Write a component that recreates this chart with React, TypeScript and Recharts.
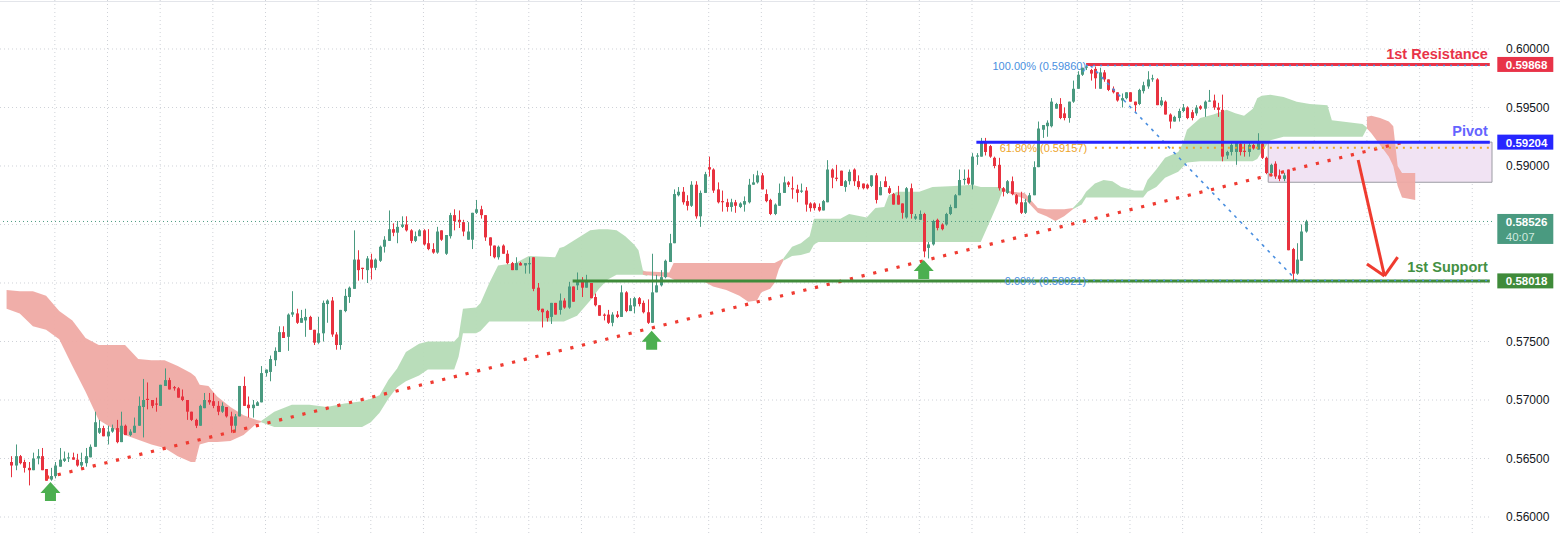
import React from "react";
import {
  ComposedChart,
  Bar,
  Area,
  XAxis,
  YAxis,
  CartesianGrid,
  ReferenceLine,
  ReferenceDot,
  ReferenceArea,
} from "recharts";

// candle prices in pips (1 = 0.0001), one entry per bar
const openPips = [
  5647, 5644, 5652, 5647, 5642, 5640, 5650, 5652, 5641, 5632,
  5635, 5643, 5648, 5650, 5651, 5649, 5644, 5646, 5651, 5660,
  5672, 5676, 5669, 5673, 5676, 5664, 5678, 5670, 5672, 5678,
  5694, 5701, 5700, 5697, 5695, 5712, 5717, 5711, 5710, 5703,
  5700, 5690, 5683, 5678, 5693, 5700, 5699, 5695, 5690, 5694,
  5686, 5678, 5686, 5712, 5696, 5693, 5695, 5698, 5723, 5724,
  5734, 5741, 5758, 5754, 5773, 5774, 5766, 5768, 5771, 5760,
  5749, 5757, 5782, 5785, 5756, 5747, 5776, 5788, 5795, 5820,
  5813, 5811, 5820, 5813, 5819, 5831, 5836, 5846, 5843, 5848,
  5850, 5845, 5836, 5840, 5845, 5834, 5829, 5826, 5845, 5825,
  5840, 5858, 5854, 5852, 5837, 5837, 5860, 5863, 5858, 5839,
  5832, 5822, 5832, 5825, 5817, 5811, 5817, 5815, 5816, 5822,
  5796, 5778, 5776, 5771, 5783, 5777, 5785, 5779, 5797, 5798,
  5801, 5796, 5800, 5788, 5781, 5773, 5773, 5766, 5773, 5771,
  5792, 5776, 5780, 5787, 5783, 5775, 5766, 5792, 5798, 5805,
  5818, 5834, 5875, 5878, 5870, 5866, 5884, 5857, 5877, 5899,
  5897, 5880, 5870, 5869, 5865, 5869, 5865, 5867, 5869, 5884,
  5886, 5892, 5876, 5871, 5859, 5866, 5877, 5886, 5881, 5880,
  5878, 5879, 5868, 5868, 5865, 5862, 5869, 5897, 5890, 5896,
  5882, 5887, 5897, 5887, 5885, 5884, 5883, 5892, 5875, 5887,
  5881, 5876, 5875, 5868, 5856, 5881, 5855, 5854, 5859, 5830,
  5833, 5854, 5850, 5850, 5859, 5864, 5875, 5888, 5890, 5884,
  5908, 5908, 5921, 5917, 5907, 5901, 5881, 5877, 5887, 5875,
  5869, 5860, 5869, 5875, 5899, 5931, 5934, 5934, 5949, 5953,
  5945, 5941, 5955, 5966, 5978, 5984, 5982, 5983, 5966, 5980,
  5974, 5966, 5963, 5956, 5958, 5963, 5955, 5953, 5964, 5968,
  5974, 5974, 5952, 5955, 5944, 5938, 5941, 5947, 5950, 5946,
  5945, 5951, 5949, 5955, 5956, 5950, 5948, 5909, 5912, 5912,
  5919, 5913, 5912, 5918, 5914, 5919, 5907, 5894, 5902, 5892,
  5889, 5897, 5829, 5808, 5819, 5844,
];

const highPips = [
  5652, 5662, 5653, 5649, 5647, 5655, 5658, 5659, 5641, 5642,
  5647, 5659, 5656, 5655, 5655, 5654, 5655, 5659, 5662, 5690,
  5683, 5678, 5678, 5679, 5683, 5690, 5679, 5675, 5685, 5703,
  5718, 5715, 5700, 5702, 5713, 5727, 5719, 5712, 5711, 5709,
  5700, 5690, 5684, 5696, 5706, 5706, 5706, 5699, 5698, 5694,
  5690, 5688, 5712, 5720, 5703, 5700, 5699, 5729, 5726, 5738,
  5745, 5763, 5763, 5774, 5793, 5778, 5777, 5778, 5772, 5760,
  5771, 5785, 5786, 5788, 5758, 5777, 5795, 5797, 5845, 5828,
  5813, 5823, 5825, 5821, 5832, 5840, 5862, 5851, 5853, 5857,
  5857, 5846, 5844, 5846, 5846, 5846, 5834, 5848, 5845, 5841,
  5860, 5863, 5862, 5854, 5852, 5860, 5871, 5866, 5858, 5839,
  5832, 5832, 5833, 5828, 5818, 5822, 5818, 5817, 5822, 5822,
  5800, 5778, 5777, 5783, 5783, 5791, 5787, 5801, 5797, 5809,
  5805, 5807, 5800, 5791, 5781, 5774, 5777, 5775, 5776, 5798,
  5793, 5787, 5788, 5788, 5785, 5786, 5825, 5807, 5811, 5820,
  5842, 5880, 5882, 5882, 5875, 5887, 5887, 5879, 5895, 5908,
  5898, 5886, 5879, 5872, 5872, 5871, 5869, 5874, 5889, 5893,
  5896, 5894, 5880, 5872, 5868, 5885, 5891, 5887, 5891, 5884,
  5885, 5882, 5869, 5869, 5868, 5871, 5905, 5898, 5901, 5896,
  5888, 5897, 5898, 5892, 5885, 5885, 5892, 5894, 5887, 5891,
  5883, 5877, 5883, 5868, 5882, 5885, 5859, 5862, 5860, 5835,
  5854, 5855, 5851, 5860, 5867, 5876, 5897, 5897, 5897, 5911,
  5911, 5924, 5924, 5918, 5908, 5907, 5882, 5888, 5891, 5876,
  5878, 5872, 5877, 5904, 5938, 5935, 5939, 5958, 5954, 5958,
  5950, 5955, 5973, 5981, 5984, 5986, 5983, 5985, 5984, 5982,
  5974, 5968, 5963, 5962, 5963, 5963, 5955, 5966, 5972, 5981,
  5978, 5975, 5959, 5956, 5945, 5943, 5949, 5953, 5951, 5948,
  5952, 5952, 5956, 5965, 5961, 5954, 5961, 5913, 5921, 5921,
  5921, 5919, 5920, 5919, 5928, 5920, 5908, 5902, 5904, 5897,
  5894, 5897, 5830, 5834, 5850, 5854,
];

const lowPips = [
  5634, 5640, 5645, 5638, 5627, 5640, 5645, 5640, 5631, 5631,
  5633, 5643, 5647, 5647, 5649, 5643, 5642, 5643, 5651, 5660,
  5671, 5669, 5662, 5672, 5663, 5664, 5670, 5669, 5672, 5678,
  5668, 5692, 5693, 5690, 5695, 5712, 5709, 5708, 5702, 5699,
  5683, 5682, 5676, 5678, 5693, 5696, 5693, 5687, 5689, 5685,
  5672, 5673, 5686, 5695, 5685, 5685, 5695, 5698, 5720, 5716,
  5729, 5741, 5753, 5742, 5771, 5765, 5766, 5754, 5760, 5747,
  5748, 5750, 5766, 5754, 5743, 5743, 5775, 5783, 5795, 5802,
  5803, 5800, 5803, 5811, 5818, 5826, 5836, 5840, 5834, 5847,
  5844, 5834, 5835, 5840, 5832, 5828, 5825, 5825, 5836, 5824,
  5838, 5845, 5847, 5840, 5837, 5829, 5859, 5855, 5836, 5823,
  5821, 5820, 5825, 5816, 5811, 5811, 5815, 5808, 5808, 5793,
  5776, 5762, 5767, 5765, 5773, 5773, 5778, 5778, 5784, 5794,
  5788, 5796, 5787, 5780, 5772, 5768, 5765, 5763, 5770, 5771,
  5775, 5776, 5774, 5780, 5774, 5765, 5766, 5792, 5797, 5804,
  5818, 5834, 5874, 5867, 5862, 5865, 5855, 5848, 5877, 5891,
  5877, 5868, 5861, 5861, 5861, 5860, 5864, 5861, 5868, 5884,
  5885, 5880, 5869, 5858, 5858, 5866, 5877, 5882, 5872, 5869,
  5877, 5861, 5861, 5862, 5861, 5862, 5869, 5881, 5887, 5883,
  5878, 5884, 5883, 5880, 5880, 5880, 5882, 5868, 5875, 5882,
  5876, 5867, 5867, 5855, 5855, 5855, 5854, 5854, 5822, 5821,
  5832, 5845, 5845, 5849, 5858, 5864, 5875, 5884, 5884, 5880,
  5901, 5908, 5909, 5907, 5898, 5879, 5874, 5876, 5875, 5867,
  5859, 5859, 5868, 5875, 5899, 5924, 5925, 5933, 5949, 5940,
  5939, 5937, 5954, 5966, 5977, 5982, 5973, 5966, 5966, 5972,
  5964, 5962, 5955, 5950, 5957, 5955, 5946, 5952, 5962, 5966,
  5972, 5952, 5951, 5944, 5932, 5938, 5938, 5946, 5940, 5939,
  5943, 5948, 5942, 5955, 5948, 5942, 5904, 5906, 5909, 5901,
  5909, 5908, 5908, 5914, 5914, 5906, 5893, 5891, 5889, 5887,
  5887, 5828, 5802, 5807, 5819, 5843,
];

const closePips = [
  5644, 5652, 5646, 5642, 5640, 5650, 5652, 5640, 5631, 5635,
  5644, 5649, 5650, 5651, 5649, 5644, 5647, 5652, 5660, 5681,
  5676, 5669, 5673, 5676, 5664, 5678, 5670, 5673, 5678, 5695,
  5700, 5700, 5695, 5696, 5713, 5717, 5709, 5710, 5702, 5700,
  5690, 5683, 5678, 5695, 5700, 5698, 5695, 5690, 5695, 5686,
  5678, 5686, 5712, 5695, 5693, 5696, 5698, 5723, 5726, 5735,
  5742, 5758, 5753, 5773, 5775, 5766, 5770, 5771, 5760, 5749,
  5757, 5783, 5785, 5756, 5747, 5777, 5789, 5796, 5820, 5811,
  5812, 5821, 5813, 5820, 5831, 5837, 5846, 5843, 5848, 5850,
  5845, 5836, 5840, 5845, 5833, 5829, 5826, 5844, 5837, 5841,
  5858, 5853, 5852, 5844, 5844, 5860, 5863, 5858, 5839, 5832,
  5822, 5831, 5825, 5817, 5811, 5817, 5815, 5817, 5817, 5795,
  5777, 5775, 5770, 5783, 5773, 5785, 5779, 5797, 5784, 5802,
  5796, 5802, 5787, 5781, 5772, 5772, 5766, 5773, 5771, 5792,
  5776, 5781, 5787, 5782, 5775, 5766, 5792, 5798, 5805, 5819,
  5834, 5876, 5878, 5869, 5866, 5884, 5857, 5877, 5893, 5897,
  5879, 5869, 5869, 5865, 5869, 5866, 5868, 5870, 5884, 5886,
  5892, 5880, 5870, 5859, 5867, 5877, 5886, 5884, 5880, 5877,
  5879, 5867, 5864, 5864, 5862, 5870, 5897, 5890, 5889, 5883,
  5887, 5895, 5887, 5882, 5881, 5881, 5892, 5871, 5882, 5882,
  5877, 5867, 5867, 5860, 5881, 5859, 5857, 5859, 5827, 5833,
  5853, 5847, 5846, 5859, 5865, 5875, 5888, 5889, 5885, 5908,
  5909, 5920, 5912, 5908, 5900, 5881, 5878, 5887, 5876, 5868,
  5860, 5869, 5875, 5899, 5932, 5935, 5937, 5955, 5953, 5941,
  5941, 5955, 5966, 5978, 5984, 5985, 5979, 5975, 5980, 5974,
  5965, 5963, 5956, 5958, 5963, 5955, 5952, 5965, 5969, 5974,
  5975, 5952, 5956, 5944, 5938, 5942, 5947, 5950, 5941, 5941,
  5950, 5949, 5955, 5956, 5950, 5948, 5908, 5912, 5918, 5920,
  5912, 5912, 5918, 5915, 5920, 5907, 5894, 5901, 5891, 5889,
  5892, 5828, 5808, 5820, 5844, 5852.6,
];

// ichimoku cloud pieces: [bar, top, bottom] in pips
const cloudRed1 = [
  [-1, 5794, 5778], [2, 5793, 5774], [5, 5793, 5763], [8, 5789, 5760],
  [11, 5776, 5752], [14, 5768, 5729], [17, 5753, 5707], [20, 5747, 5683],
  [23, 5747, 5676], [26, 5747, 5670], [29, 5735, 5666], [32, 5734, 5662],
  [35, 5734, 5659], [38, 5729, 5652], [41, 5723, 5647], [42, 5720, 5647],
  [43, 5713, 5662], [45, 5712, 5664], [47, 5703, 5664], [50, 5694, 5665],
  [53, 5687, 5670], [56, 5683, 5680], [57, 5682, 5681],
];
const cloudGreen1 = [
  [57, 5682, 5681], [60, 5690, 5677], [64, 5696, 5677], [68, 5696, 5677],
  [72, 5694, 5677], [76, 5697, 5677], [80, 5699, 5677], [82, 5701, 5681],
  [84, 5704, 5689], [86, 5717, 5701], [88, 5727, 5711], [90, 5741, 5716],
  [93, 5748, 5721], [95, 5750, 5726], [101, 5750, 5726], [102, 5754, 5737],
  [103, 5778, 5757], [106, 5779, 5757], [107, 5783, 5759], [109, 5800, 5767],
  [111, 5815, 5767], [115, 5817, 5767], [118, 5823, 5767], [124, 5822, 5767],
  [125, 5830, 5767], [126, 5831, 5767], [129, 5838, 5772], [132, 5845, 5785],
  [134, 5846, 5795], [136, 5846, 5803], [138, 5845, 5807], [140, 5840, 5807],
  [142, 5833, 5807], [143, 5828, 5807], [144, 5811, 5807], [145, 5809, 5806],
];
const cloudRed2 = [
  [144, 5810, 5807], [150, 5809, 5805], [151, 5817, 5803], [152, 5817, 5801],
  [158, 5817, 5801], [160, 5817, 5797], [163, 5817, 5794], [166, 5817, 5789],
  [168, 5817, 5784], [170, 5817, 5785], [171, 5817, 5792], [173, 5817, 5795],
  [174, 5817, 5800], [175, 5819, 5812], [176, 5821, 5819],
];
const cloudGreen2 = [
  [176, 5821, 5819], [178, 5831, 5823], [180, 5834, 5824], [182, 5840, 5826],
  [183, 5855, 5833], [184, 5855, 5835], [189, 5855, 5835], [191, 5859, 5835],
  [195, 5856, 5835], [197, 5864, 5835], [199, 5865, 5835], [200, 5875, 5835],
  [202, 5878, 5835], [207, 5878, 5835], [210, 5882, 5835], [215, 5883, 5835],
  [219, 5884, 5835], [221, 5882, 5835], [223, 5882, 5852], [225, 5882, 5869],
  [226, 5881, 5879],
];
const cloudRed3 = [
  [226, 5881, 5879], [228, 5878, 5876], [231, 5877, 5872], [234, 5864, 5860],
  [236, 5863, 5857], [238, 5863, 5853], [240, 5863, 5857], [242, 5864, 5863],
];
const cloudGreen3 = [
  [242, 5864, 5863], [244, 5872, 5867], [245, 5878, 5873], [247, 5885, 5873],
  [249, 5888, 5873], [251, 5887, 5873], [253, 5882, 5873], [256, 5879, 5873],
  [258, 5879, 5873], [259, 5888, 5878], [261, 5897, 5882], [263, 5907, 5890],
  [266, 5912, 5895], [267, 5919, 5899], [268, 5931, 5903], [271, 5941, 5904],
  [274, 5944, 5904], [277, 5948, 5904], [279, 5945, 5904], [281, 5943, 5904],
  [283, 5949, 5904], [284, 5958, 5906], [285, 5960, 5912], [287, 5961, 5922],
  [290, 5959, 5925], [293, 5955, 5925], [296, 5953, 5925], [300, 5952, 5925],
  [301, 5939, 5925], [308, 5936, 5925], [309, 5933, 5932],
];
const cloudRed4 = [
  [309, 5942, 5932], [310, 5943, 5928], [312, 5941, 5918], [314, 5938, 5908],
  [315, 5934, 5900], [316, 5900, 5883], [317, 5894, 5873], [320, 5894, 5871],
];

const priceTicks = [0.56, 0.565, 0.57, 0.575, 0.58, 0.585, 0.59, 0.595, 0.6];
const gridBars = [
  10, 22, 34, 46, 58, 70, 82, 94, 106, 118, 130, 142, 159, 171, 183, 195,
  207, 219, 231, 243, 255, 267, 285, 297, 309, 321, 333,
];

const resistance = 0.59868;
const pivot = 0.59204;
const support = 0.58018;
const lastPrice = 0.58526;
const countdown = "40:07";
const fibHigh = 0.5986;
const fib618 = 0.59157;
const fibLow = 0.58021;
const zoneLow = 0.58861;

const trendStart = { bar: 8, price: 0.56336 };
const trendEnd = { bar: 317, price: 0.59201 };
const upArrows = [
  { bar: 9, price: 0.56299 },
  { bar: 146, price: 0.57592 },
  { bar: 208, price: 0.58197 },
];
const targetArrow = {
  from: { bar: 307, price: 0.59051 },
  tip: { bar: 313, price: 0.5806 },
  left: { bar: 309, price: 0.58162 },
  right: { bar: 316, price: 0.58222 },
};

const FIRST_BAR = -2;
const LAST_BAR = 337;
const Y_MIN = 0.5586325;
const Y_MAX = 0.604188;

const UP = "#4a9a80";
const DOWN = "#e8323f";
const CLOUD_UP = "#b5dbb6";
const CLOUD_DN = "#efaaa4";
const RED = "#e83348";
const BLUE = "#2626ff";
const GREEN = "#3f8b3a";
const FIB_BLUE = "#4a8fe0";
const FIB_ORANGE = "#eda42a";

// price scale labels hidden behind the coloured tags
const tagged = [resistance, pivot, lastPrice, support];
const axisTicks = priceTicks.filter((t) =>
  tagged.every((p) => Math.abs(p - t) > 0.0012)
);

const cloudPieces = [
  { key: "r1", pts: cloudRed1, fill: CLOUD_DN },
  { key: "g1", pts: cloudGreen1, fill: CLOUD_UP },
  { key: "r2", pts: cloudRed2, fill: CLOUD_DN },
  { key: "g2", pts: cloudGreen2, fill: CLOUD_UP },
  { key: "r3", pts: cloudRed3, fill: CLOUD_DN },
  { key: "g3", pts: cloudGreen3, fill: CLOUD_UP },
  { key: "r4", pts: cloudRed4, fill: CLOUD_DN },
];

const rows: any[] = [];
for (let i = FIRST_BAR; i <= LAST_BAR; i++) {
  const row: any = { i };
  if (i >= 0 && i < closePips.length) {
    row.o = openPips[i] / 1e4;
    row.h = highPips[i] / 1e4;
    row.l = lowPips[i] / 1e4;
    row.c = closePips[i] / 1e4;
    row.range = [row.l, row.h];
  }
  cloudPieces.forEach((piece) => {
    const k = piece.pts.find((p) => p[0] === i);
    row[piece.key] = k ? [k[2] / 1e4, k[1] / 1e4] : null;
  });
  rows.push(row);
}

const Candle = (props: any) => {
  const { x, y, width, height, payload } = props;
  if (!payload || payload.o == null) return null;
  const { o, h, l, c } = payload;
  const top = Math.min(y, y + height);
  const bot = Math.max(y, y + height);
  const span = h - l;
  const toY = (v: number) =>
    span === 0 ? top : top + ((h - v) / span) * (bot - top);
  const color = c >= o ? UP : DOWN;
  const mid = Math.round(x + width / 2) + 0.5;
  const bTop = toY(Math.max(o, c));
  const bBot = toY(Math.min(o, c));
  return (
    <g>
      <line x1={mid} x2={mid} y1={top} y2={bot} stroke={color} strokeWidth={1} />
      <rect
        x={mid - 1.5}
        y={bTop}
        width={3}
        height={Math.max(1, bBot - bTop)}
        fill={color}
      />
    </g>
  );
};

const textAt =
  (text: string, color: string, dy: number, size: number, bold: boolean, dx = -2) =>
  (p: any) => (
    <text
      x={p.cx + dx}
      y={p.cy + dy}
      fill={color}
      fontSize={size}
      fontWeight={bold ? 700 : 400}
      textAnchor="end"
    >
      {text}
    </text>
  );

const priceTag =
  (text: string, bg: string, sub?: string) =>
  (p: any) => {
    const x = p.cx + 7.5;
    return (
      <g>
        <rect x={x} y={p.cy - 7.5} width={56} height={sub ? 30 : 15} fill={bg} />
        <text x={x + 8.5} y={p.cy + 4.5} fill="#fff" fontSize={11.5} fontWeight={700}>
          {text}
        </text>
        {sub && (
          <text x={x + 8.5} y={p.cy + 19.5} fill="#cfe9df" fontSize={11.5}>
            {sub}
          </text>
        )}
      </g>
    );
  };

const upArrowShape = (p: any) => {
  const { cx, cy } = p;
  const pts = [
    [cx, cy],
    [cx + 10, cy + 11],
    [cx + 5.5, cy + 11],
    [cx + 5.5, cy + 19],
    [cx - 5.5, cy + 19],
    [cx - 5.5, cy + 11],
    [cx - 10, cy + 11],
  ]
    .map((q) => q.join(","))
    .join(" ");
  return <polygon points={pts} fill="#4caf50" />;
};

const seg = (a: { bar: number; price: number }, b: { bar: number; price: number }) => [
  { x: a.bar, y: a.price },
  { x: b.bar, y: b.price },
];

export default function App() {
  return (
    <div
      style={{
        position: "absolute",
        left: 0,
        top: 0,
        width: 1560,
        height: 533,
        background: "#fff",
        fontFamily: "'Liberation Sans', Arial, sans-serif",
      }}
    >
      <div
        style={{
          position: "absolute",
          left: 0,
          top: 1,
          width: 1560,
          height: 1,
          background: "#e3e5ea",
        }}
      />
      <ComposedChart
        width={1560}
        height={533}
        data={rows}
        margin={{ top: 0, right: 0, bottom: 0, left: 0 }}
      >
        <CartesianGrid
          stroke="#cfd2d8"
          strokeDasharray="1 3"
          verticalValues={gridBars}
          horizontalValues={priceTicks}
        />
        <XAxis dataKey="i" type="category" hide ticks={gridBars} interval={0} />
        <YAxis
          type="number"
          orientation="right"
          domain={[Y_MIN, Y_MAX]}
          allowDataOverflow
          ticks={axisTicks}
          width={68}
          axisLine={false}
          tickLine={false}
          tickSize={0}
          tickMargin={14}
          tick={{ fill: "#131722", fontSize: 12 }}
          tickFormatter={(v: number) => v.toFixed(5)}
        />

        <ReferenceArea
          x1={287}
          x2={LAST_BAR}
          y1={zoneLow}
          y2={pivot}
          fill="#f1e3f3"
          fillOpacity={1}
          stroke="#9b9ba3"
          strokeWidth={1}
        />

        {cloudPieces.map((piece) => (
          <Area
            key={piece.key}
            dataKey={piece.key}
            type="linear"
            stroke="none"
            fill={piece.fill}
            fillOpacity={0.95}
            connectNulls
            dot={false}
            activeDot={false}
            isAnimationActive={false}
          />
        ))}

        <Bar dataKey="range" barSize={3} shape={<Candle />} isAnimationActive={false} />

        {/* current price */}
        <ReferenceLine y={lastPrice} stroke={UP} strokeDasharray="1 3" />

        {/* rising trend line */}
        <ReferenceLine
          segment={seg(trendStart, trendEnd)}
          stroke="#ef3b32"
          strokeWidth={3.2}
          strokeDasharray="3.2 8.8"
        />

        {/* fib retracement */}
        <ReferenceLine
          segment={[
            { x: 246, y: fibHigh },
            { x: 293, y: fibLow },
          ]}
          stroke={FIB_BLUE}
          strokeWidth={1.6}
          strokeDasharray="3 5"
        />

        {/* levels */}
        <ReferenceLine
          segment={[
            { x: 245, y: resistance },
            { x: LAST_BAR, y: resistance },
          ]}
          stroke={RED}
          strokeWidth={3}
        />
        <ReferenceLine
          segment={[
            { x: 245, y: fibHigh },
            { x: LAST_BAR, y: fibHigh },
          ]}
          stroke={FIB_BLUE}
          strokeWidth={1.5}
          strokeDasharray="2 5"
        />
        <ReferenceLine
          segment={[
            { x: 220, y: pivot },
            { x: LAST_BAR, y: pivot },
          ]}
          stroke={BLUE}
          strokeWidth={3}
        />
        <ReferenceLine
          segment={[
            { x: 247, y: fib618 },
            { x: LAST_BAR, y: fib618 },
          ]}
          stroke={FIB_ORANGE}
          strokeWidth={2}
          strokeDasharray="2 5"
        />
        <ReferenceLine
          segment={[
            { x: 128, y: support },
            { x: LAST_BAR, y: support },
          ]}
          stroke={GREEN}
          strokeWidth={3}
        />
        <ReferenceLine
          segment={[
            { x: 245, y: fibLow },
            { x: LAST_BAR, y: fibLow },
          ]}
          stroke={FIB_BLUE}
          strokeWidth={1.5}
          strokeDasharray="2 5"
        />

        {/* projected drop */}
        <ReferenceLine
          segment={seg(targetArrow.from, targetArrow.tip)}
          stroke="#ef3b2f"
          strokeWidth={3}
        />
        <ReferenceLine
          segment={seg(targetArrow.left, targetArrow.tip)}
          stroke="#ef3b2f"
          strokeWidth={3}
        />
        <ReferenceLine
          segment={seg(targetArrow.tip, targetArrow.right)}
          stroke="#ef3b2f"
          strokeWidth={3}
        />

        {upArrows.map((a, k) => (
          <ReferenceDot key={"ua" + k} x={a.bar} y={a.price} shape={upArrowShape} />
        ))}

        {/* labels */}
        <ReferenceDot x={LAST_BAR} y={resistance} shape={textAt("1st Resistance", RED, -5.5, 14.5, true)} />
        <ReferenceDot x={LAST_BAR} y={pivot} shape={textAt("Pivot", "#6464ff", -6, 14.5, true)} />
        <ReferenceDot x={LAST_BAR} y={support} shape={textAt("1st Support", "#449043", -8.5, 14.5, true)} />
        <ReferenceDot x={245} y={fibHigh} shape={textAt("100.00% (0.59860)", FIB_BLUE, 4.5, 11, false, 0)} />
        <ReferenceDot x={245} y={fib618} shape={textAt("61.80% (0.59157)", FIB_ORANGE, 4.5, 11, false, 1)} />
        <ReferenceDot x={245} y={fibLow} shape={textAt("0.00% (0.58021)", FIB_BLUE, 4.5, 11, false, 0)} />

        {/* price scale tags */}
        <ReferenceDot x={LAST_BAR} y={resistance} shape={priceTag(resistance.toFixed(5), RED)} />
        <ReferenceDot x={LAST_BAR} y={pivot} shape={priceTag(pivot.toFixed(5), BLUE)} />
        <ReferenceDot x={LAST_BAR} y={lastPrice} shape={priceTag(lastPrice.toFixed(5), "#4a9a80", countdown)} />
        <ReferenceDot x={LAST_BAR} y={support} shape={priceTag(support.toFixed(5), GREEN)} />
      </ComposedChart>
    </div>
  );
}
